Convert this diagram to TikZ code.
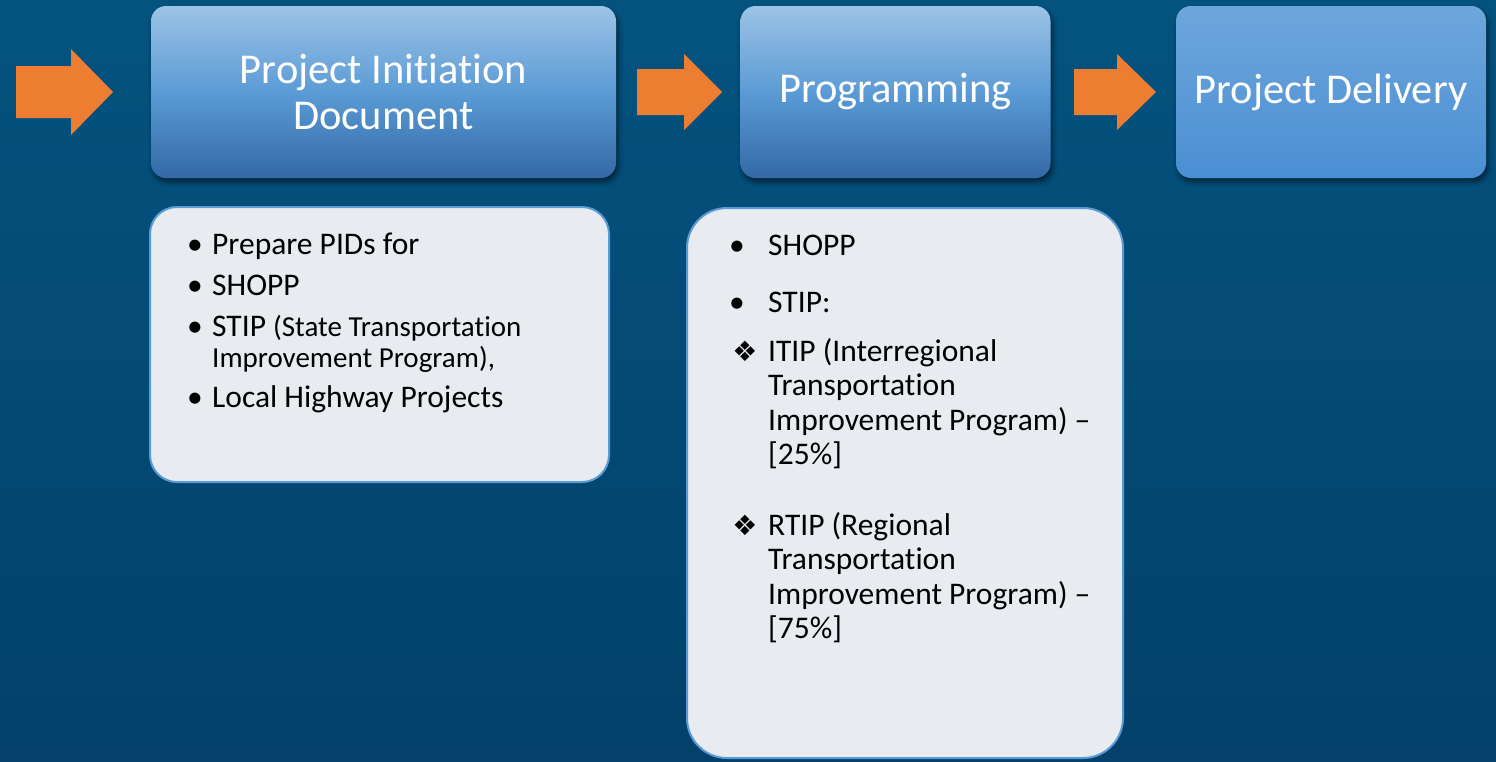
\documentclass[tikz,border=0pt]{standalone}
\usepackage{fontspec}
\setmainfont{Carlito}[Ligatures=NoCommon]
\newfontfamily\djv{DejaVu Sans}
\newcommand\tibrk{\kern0pt }
\usetikzlibrary{shadows.blur}
\definecolor{bgtop}{HTML}{04537F}
\definecolor{bgbot}{HTML}{03416A}
\definecolor{orng}{HTML}{ED7D31}
\definecolor{boxtop}{HTML}{9DC3E6}
\definecolor{boxmid}{HTML}{5B9BD5}
\definecolor{boxbot}{HTML}{3369A6}
\definecolor{dtop}{HTML}{6EA6DC}
\definecolor{dbot}{HTML}{4A8FD3}
\definecolor{panelfill}{HTML}{E8ECF0}
\definecolor{panelline}{HTML}{5B9BD5}
\begin{document}
\begin{tikzpicture}[x=1pt,y=-1pt,
  stage/.style={rounded corners=15pt, minimum height=172pt, text=white,
    font=\fontsize{42.5}{46}\selectfont, align=center, inner sep=0pt,
    blur shadow={shadow xshift=2pt, shadow yshift=-4pt, shadow blur radius=5pt, shadow opacity=55}},
  panel/.style={fill=panelfill, draw=panelline, line width=2pt, inner sep=0pt},
  txt/.style={anchor=base west, inner sep=0pt, text=black, font=\fontsize{31.5}{34.5}\selectfont},
  small/.style={anchor=base west, inner sep=0pt, text=black, font=\fontsize{29}{31}\selectfont},
  bul/.style={anchor=base, inner sep=0pt, text=black, font=\fontsize{31.5}{34.5}\selectfont},
  dia/.style={anchor=center, inner sep=0pt, text=black, font=\djv\fontsize{28}{28}\selectfont},
  blockarrow/.style={fill=orng}
]
\useasboundingbox (0,0) rectangle (1496,761);
\fill[top color=bgtop, bottom color=bgbot] (0,0) rectangle (1496,761);

% stage boxes
\node[stage, minimum width=465pt, top color=boxtop, bottom color=boxbot, middle color=boxmid] (pid) at (383.5,92) {Project Init\tibrk iat\tibrk ion\\Document};
\node[stage, minimum width=310pt, top color=boxtop, bottom color=boxbot, middle color=boxmid] (prog) at (895.5,92) {Programming};
\node[stage, minimum width=310pt, top color=dtop, bottom color=dbot] (deliv) at (1331,92) {Project Delivery};

% block arrows
\fill[blockarrow] (16,66) -- (71,66) -- (71,49) -- (113,92) -- (71,135) -- (71,118) -- (16,118) -- cycle;
\fill[blockarrow] (637,69) -- (684,69) -- (684,54) -- (722,92) -- (684,130) -- (684,115) -- (637,115) -- cycle;
\fill[blockarrow] (1074,69) -- (1117,69) -- (1117,54) -- (1156,92) -- (1117,130) -- (1117,115) -- (1074,115) -- cycle;

% panels
\node[panel, rounded corners=27pt, minimum width=459pt, minimum height=275pt] (p1) at (379.5,344.5) {};
\node[panel, rounded corners=40pt, minimum width=436pt, minimum height=550pt] (p2) at (905,483) {};

% left panel text
\node[bul] (lb1) at (195,254) {•};
\node[txt] (lt1) at (212,254) {Prepare PIDs for};
\node[bul] (lb2) at (195,295) {•};
\node[txt] (lt2) at (212,295) {SHOPP};
\node[bul] (lb3) at (195,336) {•};
\node[txt] (lt3) at (212,336) {STIP {\fontsize{29}{31}\selectfont(State Transportat\tibrk ion}};
\node[small] (lt3b) at (212,367) {Improvement Program),};
\node[bul] (lb4) at (195,407) {•};
\node[txt] (lt4) at (212,407) {Local Highway Projects};

% right panel text
\node[bul] (rb1) at (737,255) {•};
\node[txt] (rt1) at (768,255) {SHOPP};
\node[bul] (rb2) at (737,312) {•};
\node[txt] (rt2) at (768,312) {STIP:};
\node[dia] (rd1) at (745,351) {❖};
\node[txt] (rt3) at (768,361) {ITIP (Interregional};
\node[txt] (rt4) at (768,395.5) {Transportat\tibrk ion};
\node[txt] (rt5) at (768,430) {Improvement Program) –};
\node[txt] (rt6) at (768,464.5) {[25\%]};
\node[dia] (rd2) at (745,525) {❖};
\node[txt] (rt7) at (768,535) {RTIP (Regional};
\node[txt] (rt8) at (768,569.5) {Transportat\tibrk ion};
\node[txt] (rt9) at (768,604) {Improvement Program) –};
\node[txt] (rt10) at (768,638.5) {[75\%]};
\end{tikzpicture}
\end{document}
